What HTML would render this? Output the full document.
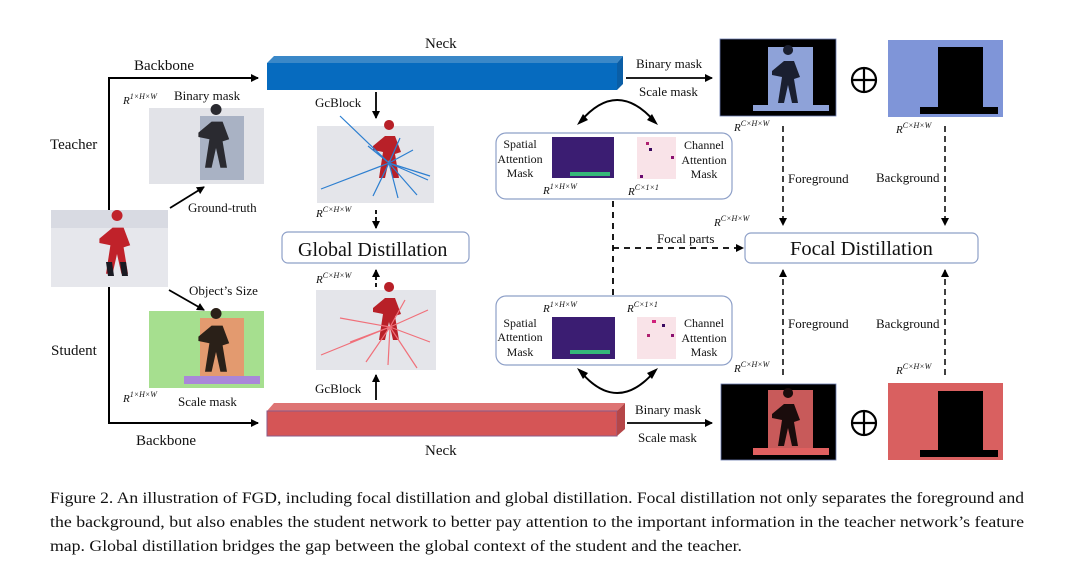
<!DOCTYPE html>
<html><head><meta charset="utf-8"><style>
html,body{margin:0;padding:0;background:#fff}
svg{display:block}
text{font-family:"Liberation Serif",serif;fill:#111}
.s{font-size:13px}
.t{font-size:12px}
.r{font-size:11px;font-style:italic}
</style></head><body>
<svg width="1090" height="568" viewBox="0 0 1090 568" xmlns="http://www.w3.org/2000/svg">
<defs>
<marker id="a" markerWidth="8" markerHeight="8" refX="7" refY="4" orient="auto" markerUnits="userSpaceOnUse"><path d="M0,0 L8,4 L0,8 z" fill="#000"/></marker>
<g id="skier">
<path d="M0,-30 a5,5 0 1 1 0.1,0 z" />
<path d="M-4,-24 L6,-24 L12,-8 L6,-6 L10,18 L4,18 L0,0 L-4,18 L-10,18 L-6,-8 L-16,-10 L-16,-14 z"/>
</g>
<g id="oplus"><circle r="12" fill="none" stroke="#000" stroke-width="2.2"/><path d="M-12,0 H12 M0,-12 V12" stroke="#000" stroke-width="2.2"/></g>
</defs>

<!-- left structure -->
<path d="M109,230 V78 H258" fill="none" stroke="#000" stroke-width="2" marker-end="url(#a)"/>
<path d="M109,287 V423 H258" fill="none" stroke="#000" stroke-width="2" marker-end="url(#a)"/>
<text x="134" y="70" font-size="15">Backbone</text>
<text x="136" y="445" font-size="15">Backbone</text>
<text x="50" y="149" font-size="15">Teacher</text>
<text x="51" y="355" font-size="15">Student</text>
<text x="123" y="104" class="r">R<tspan font-size="8" dy="-5">1×H×W</tspan></text>
<text x="174" y="100" class="s">Binary mask</text>
<text x="123" y="402" class="r">R<tspan font-size="8" dy="-5">1×H×W</tspan></text>
<text x="178" y="406" class="s">Scale mask</text>
<text x="188" y="212" class="s">Ground-truth</text>
<text x="189" y="295" class="s">Object’s Size</text>
<path d="M170,208 L204,187" stroke="#000" stroke-width="1.8" marker-end="url(#a)"/>
<path d="M169,290 L204,310" stroke="#000" stroke-width="1.8" marker-end="url(#a)"/>

<!-- input image -->
<rect x="51" y="210" width="117" height="77" fill="#e6e7ec"/>
<rect x="51" y="210" width="117" height="18" fill="#d8dae2"/>
<g transform="translate(117,254) scale(1.1)" fill="#c0222a"><use href="#skier"/></g>
<path d="M106,262 L112,262 L114,276 L108,276 z M120,262 L126,262 L128,276 L122,276 z" fill="#1a1a22"/>
<!-- teacher mask image -->
<rect x="149" y="108" width="115" height="76" fill="#e2e3e8"/>
<rect x="200" y="116" width="44" height="64" fill="#a9b2c4"/>
<g transform="translate(216,148) scale(1.1)" fill="#2a2a30"><use href="#skier"/></g>
<!-- student mask image -->
<rect x="149" y="311" width="115" height="77" fill="#a6df8f"/>
<rect x="200" y="318" width="44" height="64" fill="#e39a6f"/>
<rect x="184" y="376" width="76" height="8" fill="#a987d9"/>
<g transform="translate(216,352) scale(1.1)" fill="#2a2018"><use href="#skier"/></g>

<!-- necks -->
<polygon points="267,63 274,56 623,56 617,63" fill="#3a88c8"/>
<rect x="267" y="63" width="350" height="27" fill="#066bbf"/>
<polygon points="617,63 623,56 623,84 617,90" fill="#0a5ea6"/>
<polygon points="267,411 274,403 625,403 617,411" fill="#de7474"/>
<rect x="267" y="411" width="350" height="25" fill="#d55556" stroke="#8a5a88" stroke-width="1"/>
<polygon points="617,411 625,403 625,429 617,436" fill="#b54648"/>
<text x="425" y="48" font-size="15">Neck</text>
<text x="425" y="455" font-size="15">Neck</text>

<!-- GcBlocks -->
<text x="315" y="107" class="s">GcBlock</text>
<path d="M376,92 V118" stroke="#000" stroke-width="1.8" marker-end="url(#a)"/>
<text x="315" y="393" class="s">GcBlock</text>
<path d="M376,400 V375" stroke="#000" stroke-width="1.8" marker-end="url(#a)"/>
<rect x="317" y="126" width="117" height="77" fill="#e4e5ea"/>
<g transform="translate(389,160)" fill="#b82028"><use href="#skier"/></g>
<g stroke="#2d7fd0" stroke-width="1.2">
<path d="M389,163 L321,189 M389,163 L340,116 M389,163 L368,146 M389,163 L430,176 M389,163 L413,150 M389,163 L428,180 M389,163 L400,138 M389,163 L373,196 M389,163 L417,195 M389,163 L398,198"/>
</g>
<text x="316" y="217" class="r">R<tspan font-size="8" dy="-5">C×H×W</tspan></text>
<path d="M376,210 V228" stroke="#000" stroke-width="1.8" stroke-dasharray="4,3" marker-end="url(#a)"/>
<rect x="282" y="232" width="187" height="31" rx="6" fill="#fff" stroke="#8ea0c8" stroke-width="1.2"/>
<text x="298" y="256" font-size="20">Global Distillation</text>
<text x="316" y="283" class="r">R<tspan font-size="8" dy="-5">C×H×W</tspan></text>
<path d="M376,287 V270" stroke="#000" stroke-width="1.8" stroke-dasharray="4,3" marker-end="url(#a)"/>
<rect x="316" y="290" width="120" height="80" fill="#e4e5ea"/>
<g transform="translate(389,322)" fill="#b82028"><use href="#skier"/></g>
<g stroke="#f0707a" stroke-width="1.2">
<path d="M390,327 L321,355 M390,327 L340,318 M390,327 L428,310 M390,327 L430,342 M390,327 L366,362 M390,327 L417,368 M390,327 L388,365 M390,327 L405,300 M390,327 L350,342"/>
</g>

<!-- teacher right -->
<text x="636" y="68" class="s">Binary mask</text>
<path d="M626,78 H712" stroke="#000" stroke-width="1.8" marker-end="url(#a)"/>
<text x="639" y="96" class="s">Scale mask</text>
<path d="M580,122 Q617,78 655,122" fill="none" stroke="#000" stroke-width="2"/>
<path d="M583,114 L577,125 L588,120 z M652,114 L658,125 L647,120 z" fill="#000"/>
<rect x="496" y="133" width="236" height="66" rx="10" fill="#fff" stroke="#8ea0c8" stroke-width="1.2"/>
<g text-anchor="middle"><text x="520" y="148" class="t">Spatial</text><text x="520" y="163" class="t">Attention</text><text x="520" y="177" class="t">Mask</text></g>
<rect x="552" y="137" width="62" height="41" fill="#3b1d72"/>
<rect x="570" y="172" width="40" height="4" fill="#35b779"/>
<rect x="637" y="137" width="39" height="42" fill="#f9e3e8"/>
<rect x="646" y="142" width="3" height="3" fill="#b02070"/><rect x="649" y="148" width="3" height="3" fill="#3a0a60"/><rect x="671" y="156" width="3" height="3" fill="#8a1070"/><rect x="640" y="175" width="3" height="3" fill="#6a0a70"/>
<g text-anchor="middle"><text x="704" y="149" class="t">Channel</text><text x="704" y="164" class="t">Attention</text><text x="704" y="178" class="t">Mask</text></g>
<text x="543" y="194" class="r">R<tspan font-size="8" dy="-5">1×H×W</tspan></text>
<text x="628" y="195" class="r">R<tspan font-size="8" dy="-5">C×1×1</tspan></text>

<path d="M613,201 V295" stroke="#000" stroke-width="1.8" stroke-dasharray="6,5"/>
<path d="M613,248 H743" stroke="#000" stroke-width="1.8" stroke-dasharray="6,5" marker-end="url(#a)"/>
<text x="657" y="243" class="s">Focal parts</text>
<text x="714" y="226" class="r">R<tspan font-size="8" dy="-5">C×H×W</tspan></text>
<rect x="745" y="233" width="233" height="30" rx="6" fill="#fff" stroke="#8ea0c8" stroke-width="1.2"/>
<text x="790" y="255" font-size="20.5">Focal Distillation</text>

<!-- student attention -->
<rect x="496" y="296" width="236" height="69" rx="10" fill="#fff" stroke="#8ea0c8" stroke-width="1.2"/>
<text x="543" y="312" class="r">R<tspan font-size="8" dy="-5">1×H×W</tspan></text>
<text x="627" y="312" class="r">R<tspan font-size="8" dy="-5">C×1×1</tspan></text>
<g text-anchor="middle"><text x="520" y="327" class="t">Spatial</text><text x="520" y="341" class="t">Attention</text><text x="520" y="356" class="t">Mask</text></g>
<rect x="552" y="317" width="63" height="42" fill="#3b1d72"/>
<rect x="570" y="350" width="40" height="4" fill="#35b779"/>
<rect x="637" y="317" width="39" height="42" fill="#f9e3e8"/>
<rect x="652" y="320" width="4" height="3" fill="#d0207a"/><rect x="662" y="324" width="3" height="3" fill="#3a0a60"/><rect x="647" y="334" width="3" height="3" fill="#b02070"/><rect x="671" y="334" width="3" height="3" fill="#8a1070"/>
<g text-anchor="middle"><text x="704" y="327" class="t">Channel</text><text x="704" y="342" class="t">Attention</text><text x="704" y="356" class="t">Mask</text></g>
<path d="M580,371 Q617,415 655,371" fill="none" stroke="#000" stroke-width="2"/>
<path d="M583,379 L577,368 L588,373 z M652,379 L658,368 L647,373 z" fill="#000"/>
<text x="635" y="414" class="s">Binary mask</text>
<path d="M627,423 H712" stroke="#000" stroke-width="1.8" marker-end="url(#a)"/>
<text x="638" y="442" class="s">Scale mask</text>

<!-- fg/bg images teacher -->
<rect x="720" y="39" width="116" height="77" fill="#000" stroke="#6a7ab0" stroke-width="0.8"/>
<rect x="768" y="47" width="45" height="62" fill="#8ea2d8"/>
<rect x="753" y="105" width="76" height="6" fill="#8ea2d8"/>
<g transform="translate(788,85) scale(1.0)" fill="#1a1f30"><use href="#skier"/></g>
<use href="#oplus" x="864" y="80"/>
<rect x="888" y="40" width="115" height="77" fill="#7f95d8"/>
<rect x="938" y="47" width="45" height="60" fill="#000"/>
<rect x="920" y="107" width="78" height="7" fill="#000"/>
<text x="734" y="131" class="r">R<tspan font-size="8" dy="-5">C×H×W</tspan></text>
<text x="896" y="133" class="r">R<tspan font-size="8" dy="-5">C×H×W</tspan></text>
<path d="M783,126 V225" stroke="#000" stroke-width="1.5" stroke-dasharray="6,4" marker-end="url(#a)"/>
<path d="M945,126 V225" stroke="#000" stroke-width="1.5" stroke-dasharray="6,4" marker-end="url(#a)"/>
<text x="788" y="183" class="s">Foreground</text>
<text x="876" y="182" class="s">Background</text>
<path d="M783,375 V270" stroke="#000" stroke-width="1.5" stroke-dasharray="6,4" marker-end="url(#a)"/>
<path d="M945,375 V270" stroke="#000" stroke-width="1.5" stroke-dasharray="6,4" marker-end="url(#a)"/>
<text x="788" y="328" class="s">Foreground</text>
<text x="876" y="328" class="s">Background</text>
<text x="734" y="372" class="r">R<tspan font-size="8" dy="-5">C×H×W</tspan></text>
<text x="896" y="374" class="r">R<tspan font-size="8" dy="-5">C×H×W</tspan></text>
<!-- student fg/bg -->
<rect x="721" y="384" width="115" height="76" fill="#000" stroke="#6a7ab0" stroke-width="0.8"/>
<rect x="768" y="390" width="45" height="60" fill="#c85a5a"/>
<rect x="753" y="448" width="76" height="7" fill="#e06060"/>
<g transform="translate(788,428) scale(1.0)" fill="#1a0c0c"><use href="#skier"/></g>
<use href="#oplus" x="864" y="423"/>
<rect x="888" y="383" width="115" height="77" fill="#d96060"/>
<rect x="938" y="391" width="45" height="61" fill="#000"/>
<rect x="920" y="450" width="78" height="7" fill="#000"/>

<!-- caption -->
<text x="50" y="503" font-size="15.5" textLength="974" lengthAdjust="spacingAndGlyphs">Figure 2. An illustration of FGD, including focal distillation and global distillation. Focal distillation not only separates the foreground and</text>
<text x="50" y="527" font-size="15.5" textLength="974" lengthAdjust="spacingAndGlyphs">the background, but also enables the student network to better pay attention to the important information in the teacher network’s feature</text>
<text x="50" y="551" font-size="15.5" textLength="692" lengthAdjust="spacingAndGlyphs">map. Global distillation bridges the gap between the global context of the student and the teacher.</text>
</svg>
</body></html>
